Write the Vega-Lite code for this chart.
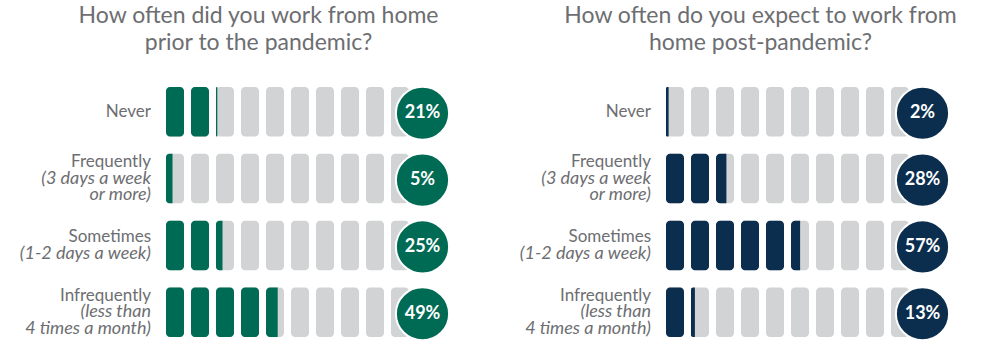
{
  "$schema": "https://vega.github.io/schema/vega-lite/v6.json",
  "background": "white",
  "padding": {"left": 0, "top": 4, "right": 0, "bottom": 0},
  "config": {"view": {"stroke": null}, "font": "Lato"},
  "datasets": {
    "labels": [
      {"cat": "Never", "main": "Never", "sub": "", "nsub": 0},
      {"cat": "Frequently", "main": "Frequently", "sub": ["(3 days a week", "or more)"], "nsub": 2},
      {"cat": "Sometimes", "main": "Sometimes", "sub": ["(1-2 days a week)"], "nsub": 1},
      {"cat": "Infrequently", "main": "Infrequently", "sub": ["(less than", "4 times a month)"], "nsub": 2}
    ],
    "pre": [
      {"cat": "Never", "share": 0.21},
      {"cat": "Frequently", "share": 0.05},
      {"cat": "Sometimes", "share": 0.25},
      {"cat": "Infrequently", "share": 0.49}
    ],
    "post": [
      {"cat": "Never", "share": 0.02},
      {"cat": "Frequently", "share": 0.28},
      {"cat": "Sometimes", "share": 0.57},
      {"cat": "Infrequently", "share": 0.13}
    ],
    "pre_bars": [
      {"cat": "Never", "bar": 0, "pct": 10}, {"cat": "Never", "bar": 1, "pct": 10}, {"cat": "Never", "bar": 2, "pct": 1}, {"cat": "Never", "bar": 3, "pct": 0}, {"cat": "Never", "bar": 4, "pct": 0},
      {"cat": "Never", "bar": 5, "pct": 0}, {"cat": "Never", "bar": 6, "pct": 0}, {"cat": "Never", "bar": 7, "pct": 0}, {"cat": "Never", "bar": 8, "pct": 0}, {"cat": "Never", "bar": 9, "pct": 0},
      {"cat": "Frequently", "bar": 0, "pct": 5}, {"cat": "Frequently", "bar": 1, "pct": 0}, {"cat": "Frequently", "bar": 2, "pct": 0}, {"cat": "Frequently", "bar": 3, "pct": 0}, {"cat": "Frequently", "bar": 4, "pct": 0},
      {"cat": "Frequently", "bar": 5, "pct": 0}, {"cat": "Frequently", "bar": 6, "pct": 0}, {"cat": "Frequently", "bar": 7, "pct": 0}, {"cat": "Frequently", "bar": 8, "pct": 0}, {"cat": "Frequently", "bar": 9, "pct": 0},
      {"cat": "Sometimes", "bar": 0, "pct": 10}, {"cat": "Sometimes", "bar": 1, "pct": 10}, {"cat": "Sometimes", "bar": 2, "pct": 5}, {"cat": "Sometimes", "bar": 3, "pct": 0}, {"cat": "Sometimes", "bar": 4, "pct": 0},
      {"cat": "Sometimes", "bar": 5, "pct": 0}, {"cat": "Sometimes", "bar": 6, "pct": 0}, {"cat": "Sometimes", "bar": 7, "pct": 0}, {"cat": "Sometimes", "bar": 8, "pct": 0}, {"cat": "Sometimes", "bar": 9, "pct": 0},
      {"cat": "Infrequently", "bar": 0, "pct": 10}, {"cat": "Infrequently", "bar": 1, "pct": 10}, {"cat": "Infrequently", "bar": 2, "pct": 10}, {"cat": "Infrequently", "bar": 3, "pct": 10}, {"cat": "Infrequently", "bar": 4, "pct": 9},
      {"cat": "Infrequently", "bar": 5, "pct": 0}, {"cat": "Infrequently", "bar": 6, "pct": 0}, {"cat": "Infrequently", "bar": 7, "pct": 0}, {"cat": "Infrequently", "bar": 8, "pct": 0}, {"cat": "Infrequently", "bar": 9, "pct": 0}
    ],
    "post_bars": [
      {"cat": "Never", "bar": 0, "pct": 2}, {"cat": "Never", "bar": 1, "pct": 0}, {"cat": "Never", "bar": 2, "pct": 0}, {"cat": "Never", "bar": 3, "pct": 0}, {"cat": "Never", "bar": 4, "pct": 0},
      {"cat": "Never", "bar": 5, "pct": 0}, {"cat": "Never", "bar": 6, "pct": 0}, {"cat": "Never", "bar": 7, "pct": 0}, {"cat": "Never", "bar": 8, "pct": 0}, {"cat": "Never", "bar": 9, "pct": 0},
      {"cat": "Frequently", "bar": 0, "pct": 10}, {"cat": "Frequently", "bar": 1, "pct": 10}, {"cat": "Frequently", "bar": 2, "pct": 8}, {"cat": "Frequently", "bar": 3, "pct": 0}, {"cat": "Frequently", "bar": 4, "pct": 0},
      {"cat": "Frequently", "bar": 5, "pct": 0}, {"cat": "Frequently", "bar": 6, "pct": 0}, {"cat": "Frequently", "bar": 7, "pct": 0}, {"cat": "Frequently", "bar": 8, "pct": 0}, {"cat": "Frequently", "bar": 9, "pct": 0},
      {"cat": "Sometimes", "bar": 0, "pct": 10}, {"cat": "Sometimes", "bar": 1, "pct": 10}, {"cat": "Sometimes", "bar": 2, "pct": 10}, {"cat": "Sometimes", "bar": 3, "pct": 10}, {"cat": "Sometimes", "bar": 4, "pct": 10},
      {"cat": "Sometimes", "bar": 5, "pct": 7}, {"cat": "Sometimes", "bar": 6, "pct": 0}, {"cat": "Sometimes", "bar": 7, "pct": 0}, {"cat": "Sometimes", "bar": 8, "pct": 0}, {"cat": "Sometimes", "bar": 9, "pct": 0},
      {"cat": "Infrequently", "bar": 0, "pct": 10}, {"cat": "Infrequently", "bar": 1, "pct": 3}, {"cat": "Infrequently", "bar": 2, "pct": 0}, {"cat": "Infrequently", "bar": 3, "pct": 0}, {"cat": "Infrequently", "bar": 4, "pct": 0},
      {"cat": "Infrequently", "bar": 5, "pct": 0}, {"cat": "Infrequently", "bar": 6, "pct": 0}, {"cat": "Infrequently", "bar": 7, "pct": 0}, {"cat": "Infrequently", "bar": 8, "pct": 0}, {"cat": "Infrequently", "bar": 9, "pct": 0}
    ]
  },
  "spacing": 46,
  "resolve": {"scale": {"xOffset": "independent", "yOffset": "independent", "size": "independent"}},
  "hconcat": [
    {
      "title": {"text": ["How often did you work from home", "prior to the pandemic?"], "fontSize": 23, "font": "Lato", "fontWeight": "normal", "color": "#6D6E71", "lineHeight": 27, "anchor": "middle", "dx": 32, "offset": 28},
      "spacing": 15,
      "resolve": {"scale": {"xOffset": "independent", "yOffset": "independent", "size": "independent"}},
      "hconcat": [
        {
          "width": 151, "height": 250,
          "data": {"name": "labels"},
          "layer": [
            {"mark": {"type": "text", "align": "right", "baseline": "middle", "fontSize": 17, "lineHeight": 16.5, "color": "#6D6E71"},
             "encoding": {"x": {"value": "width"},
                          "y": {"field": "cat", "type": "nominal", "bandPosition": 0, "sort": ["Never", "Frequently", "Sometimes", "Infrequently"], "scale": {"paddingInner": 0.26, "paddingOuter": 0}, "axis": null},
                          "yOffset": {"field": "nsub", "type": "quantitative", "scale": {"domain": [0, 2], "range": [24.8, 8.3]}},
                          "text": {"field": "main", "type": "nominal"}}},
            {"transform": [{"filter": "datum.nsub > 0"}],
             "mark": {"type": "text", "align": "right", "baseline": "middle", "fontSize": 18, "lineHeight": 16.5, "fontStyle": "italic", "color": "#6D6E71", "dy": 16.5},
             "encoding": {"x": {"value": "width"},
                          "y": {"field": "cat", "type": "nominal", "bandPosition": 0, "sort": ["Never", "Frequently", "Sometimes", "Infrequently"], "axis": null},
                          "yOffset": {"field": "nsub", "type": "quantitative"},
                          "text": {"field": "sub", "type": "nominal"}}}
          ]
        },
        {
          "width": 263, "height": 250,
          "layer": [
            {"data": {"name": "pre_bars"}, "mark": {"type": "bar", "orient": "vertical", "color": "#D1D3D4", "cornerRadius": 4},
             "encoding": {"x": {"field": "bar", "type": "ordinal", "scale": {"domain": [0,1,2,3,4,5,6,7,8,9,10], "paddingInner": 0.48, "paddingOuter": 0}, "axis": null},
                          "y": {"field": "cat", "type": "nominal", "sort": ["Never", "Frequently", "Sometimes", "Infrequently"], "scale": {"paddingInner": 0.26, "paddingOuter": 0}, "axis": null}}},
            {"data": {"name": "pre_bars"}, "transform": [{"filter": "datum.pct == 10"}], "mark": {"type": "bar", "orient": "vertical", "color": "#006B54", "cornerRadius": 4},
             "encoding": {"x": {"field": "bar", "type": "ordinal", "axis": null},
                          "y": {"field": "cat", "type": "nominal", "sort": ["Never", "Frequently", "Sometimes", "Infrequently"], "axis": null}}},
            {"data": {"name": "pre_bars"}, "transform": [{"filter": "datum.pct > 0 && datum.pct < 10"}], "mark": {"type": "bar", "orient": "vertical", "color": "#006B54", "cornerRadiusTopLeft": 4, "cornerRadiusBottomLeft": 4},
             "encoding": {"x": {"field": "bar", "type": "ordinal", "axis": null},
                          "y": {"field": "cat", "type": "nominal", "sort": ["Never", "Frequently", "Sometimes", "Infrequently"], "axis": null},
                          "size": {"field": "pct", "type": "quantitative", "scale": {"domain": [0, 10], "range": [0, 13]}, "legend": null},
                          "xOffset": {"field": "pct", "type": "quantitative", "scale": {"domain": [0, 10], "range": [0, 6.5]}}}},
            {"data": {"name": "pre"}, "mark": {"type": "point", "filled": true, "shape": "circle", "size": 2830, "color": "#006B54", "stroke": "white", "strokeWidth": 2, "opacity": 1, "yOffset": 1.5},
             "encoding": {"x": {"datum": 10, "type": "ordinal"}, "y": {"field": "cat", "type": "nominal", "sort": ["Never", "Frequently", "Sometimes", "Infrequently"], "axis": null}}},
            {"data": {"name": "pre"}, "mark": {"type": "text", "color": "white", "fontSize": 18, "fontWeight": "bold", "baseline": "middle", "yOffset": 1.5},
             "encoding": {"x": {"datum": 10, "type": "ordinal"}, "y": {"field": "cat", "type": "nominal", "sort": ["Never", "Frequently", "Sometimes", "Infrequently"], "axis": null}, "text": {"field": "share", "type": "quantitative", "format": ".0%"}}}
          ]
        }
      ]
    },
    {
      "title": {"text": ["How often do you expect to work from", "home post-pandemic?"], "fontSize": 23, "font": "Lato", "fontWeight": "normal", "color": "#6D6E71", "lineHeight": 27, "anchor": "middle", "dx": 34, "offset": 28},
      "spacing": 15,
      "resolve": {"scale": {"xOffset": "independent", "yOffset": "independent", "size": "independent"}},
      "hconcat": [
        {
          "width": 151, "height": 250,
          "data": {"name": "labels"},
          "layer": [
            {"mark": {"type": "text", "align": "right", "baseline": "middle", "fontSize": 17, "lineHeight": 16.5, "color": "#6D6E71"},
             "encoding": {"x": {"value": "width"},
                          "y": {"field": "cat", "type": "nominal", "bandPosition": 0, "sort": ["Never", "Frequently", "Sometimes", "Infrequently"], "scale": {"paddingInner": 0.26, "paddingOuter": 0}, "axis": null},
                          "yOffset": {"field": "nsub", "type": "quantitative", "scale": {"domain": [0, 2], "range": [24.8, 8.3]}},
                          "text": {"field": "main", "type": "nominal"}}},
            {"transform": [{"filter": "datum.nsub > 0"}],
             "mark": {"type": "text", "align": "right", "baseline": "middle", "fontSize": 18, "lineHeight": 16.5, "fontStyle": "italic", "color": "#6D6E71", "dy": 16.5},
             "encoding": {"x": {"value": "width"},
                          "y": {"field": "cat", "type": "nominal", "bandPosition": 0, "sort": ["Never", "Frequently", "Sometimes", "Infrequently"], "axis": null},
                          "yOffset": {"field": "nsub", "type": "quantitative"},
                          "text": {"field": "sub", "type": "nominal"}}}
          ]
        },
        {
          "width": 263, "height": 250,
          "layer": [
            {"data": {"name": "post_bars"}, "mark": {"type": "bar", "orient": "vertical", "color": "#D1D3D4", "cornerRadius": 4},
             "encoding": {"x": {"field": "bar", "type": "ordinal", "scale": {"domain": [0,1,2,3,4,5,6,7,8,9,10], "paddingInner": 0.48, "paddingOuter": 0}, "axis": null},
                          "y": {"field": "cat", "type": "nominal", "sort": ["Never", "Frequently", "Sometimes", "Infrequently"], "scale": {"paddingInner": 0.26, "paddingOuter": 0}, "axis": null}}},
            {"data": {"name": "post_bars"}, "transform": [{"filter": "datum.pct == 10"}], "mark": {"type": "bar", "orient": "vertical", "color": "#0B2E4F", "cornerRadius": 4},
             "encoding": {"x": {"field": "bar", "type": "ordinal", "axis": null},
                          "y": {"field": "cat", "type": "nominal", "sort": ["Never", "Frequently", "Sometimes", "Infrequently"], "axis": null}}},
            {"data": {"name": "post_bars"}, "transform": [{"filter": "datum.pct > 0 && datum.pct < 10"}], "mark": {"type": "bar", "orient": "vertical", "color": "#0B2E4F", "cornerRadiusTopLeft": 4, "cornerRadiusBottomLeft": 4},
             "encoding": {"x": {"field": "bar", "type": "ordinal", "axis": null},
                          "y": {"field": "cat", "type": "nominal", "sort": ["Never", "Frequently", "Sometimes", "Infrequently"], "axis": null},
                          "size": {"field": "pct", "type": "quantitative", "scale": {"domain": [0, 10], "range": [0, 13]}, "legend": null},
                          "xOffset": {"field": "pct", "type": "quantitative", "scale": {"domain": [0, 10], "range": [0, 6.5]}}}},
            {"data": {"name": "post"}, "mark": {"type": "point", "filled": true, "shape": "circle", "size": 2830, "color": "#0B2E4F", "stroke": "white", "strokeWidth": 2, "opacity": 1, "yOffset": 1.5},
             "encoding": {"x": {"datum": 10, "type": "ordinal"}, "y": {"field": "cat", "type": "nominal", "sort": ["Never", "Frequently", "Sometimes", "Infrequently"], "axis": null}}},
            {"data": {"name": "post"}, "mark": {"type": "text", "color": "white", "fontSize": 18, "fontWeight": "bold", "baseline": "middle", "yOffset": 1.5},
             "encoding": {"x": {"datum": 10, "type": "ordinal"}, "y": {"field": "cat", "type": "nominal", "sort": ["Never", "Frequently", "Sometimes", "Infrequently"], "axis": null}, "text": {"field": "share", "type": "quantitative", "format": ".0%"}}}
          ]
        }
      ]
    }
  ]
}
